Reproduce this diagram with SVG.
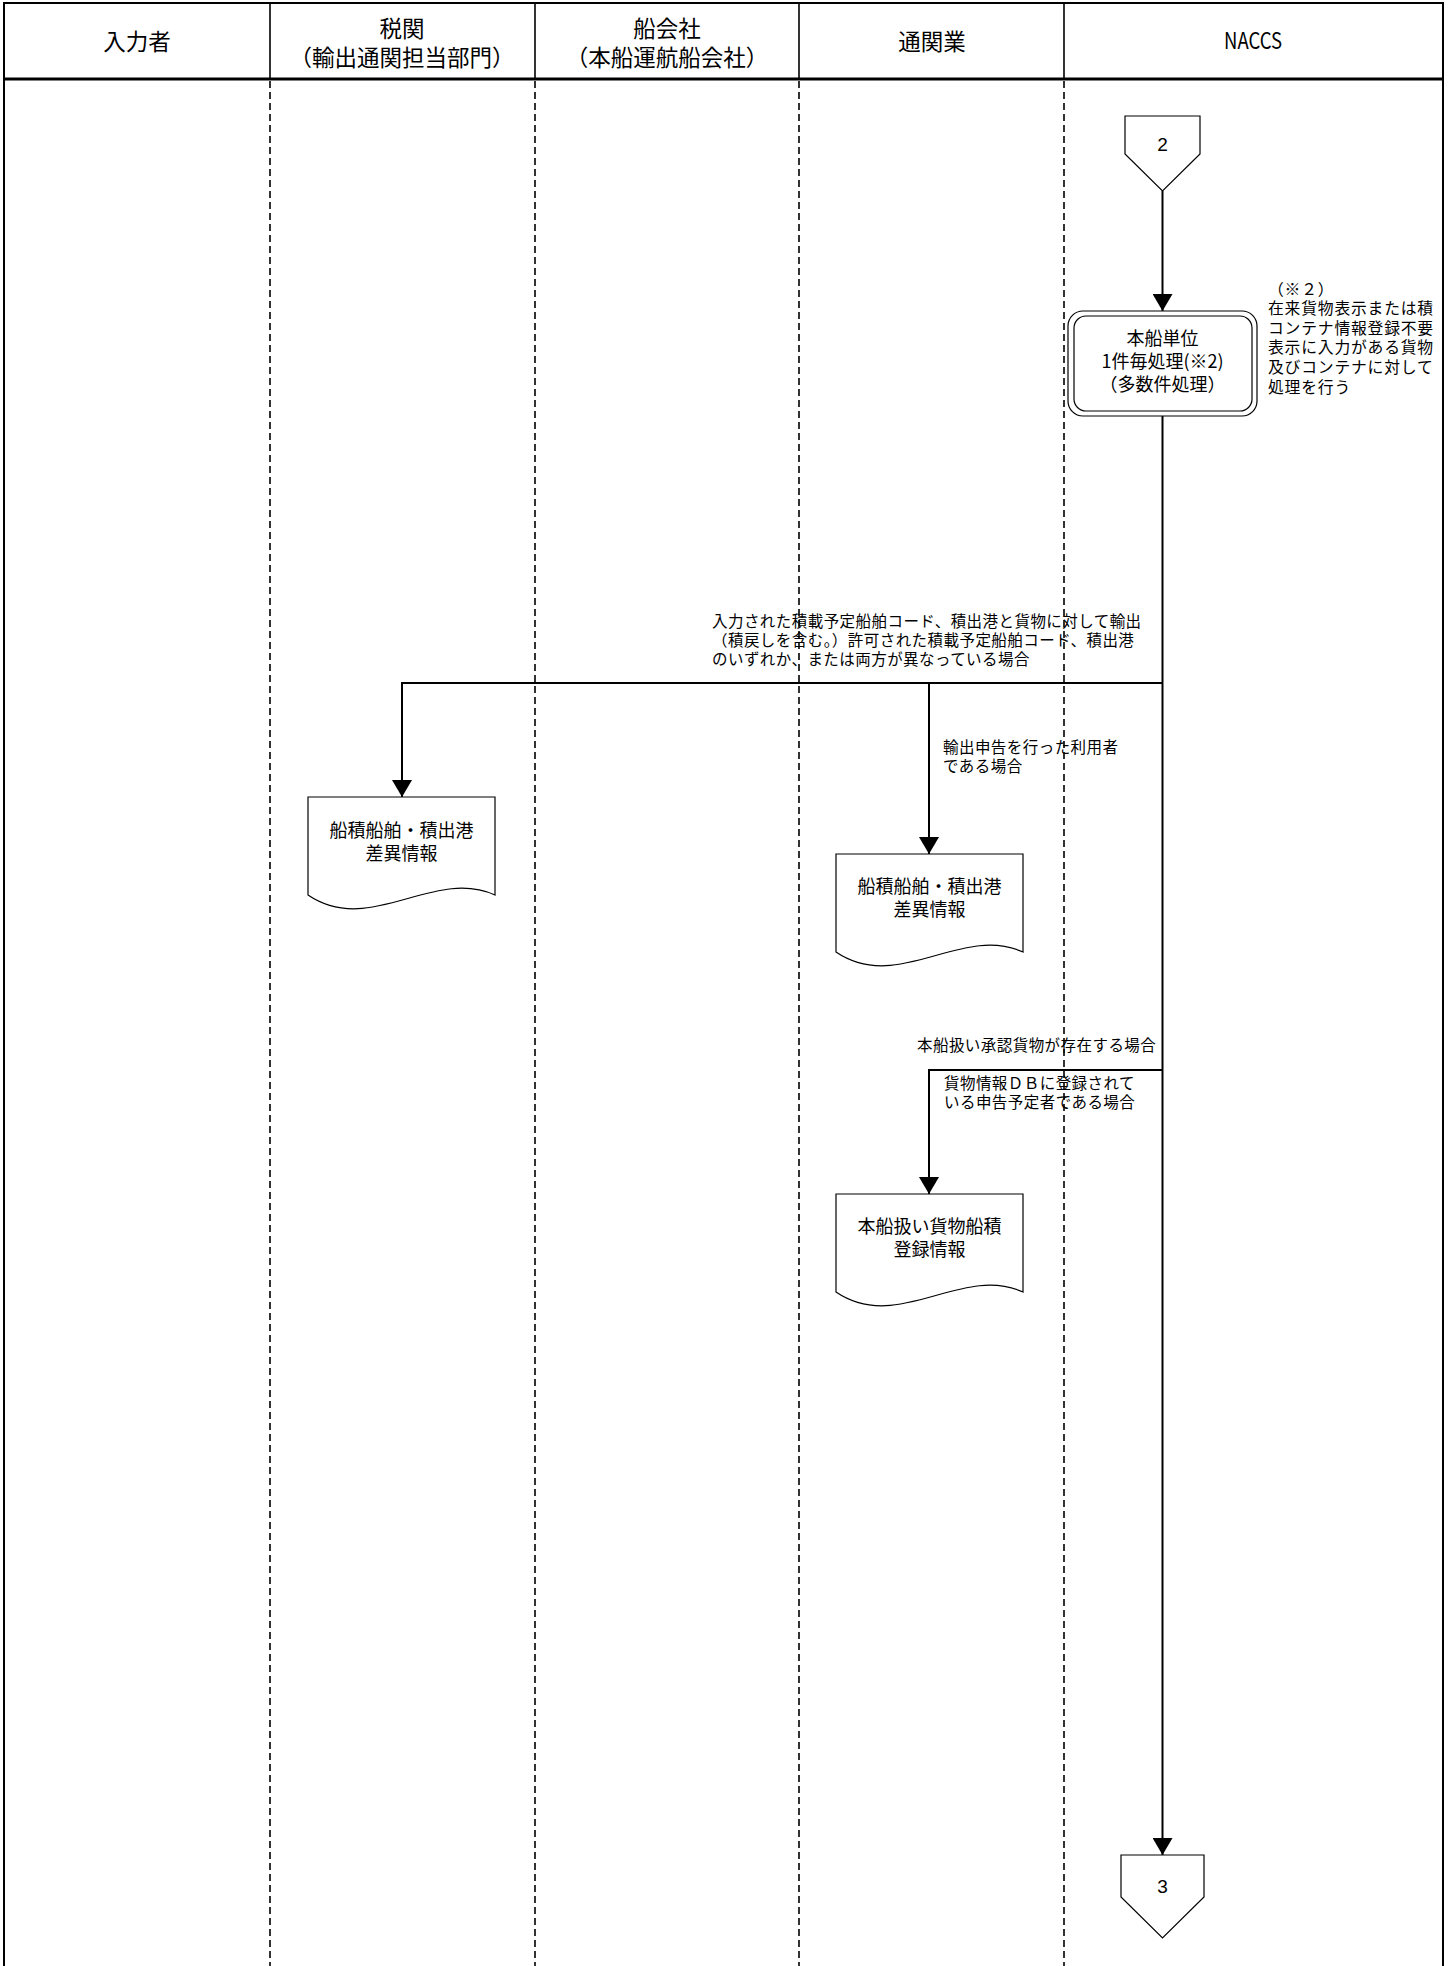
<svg xmlns="http://www.w3.org/2000/svg" width="1451" height="1966" viewBox="0 0 1451 1966">
<style>
text{font-family:"Noto Sans CJK JP","Liberation Sans",sans-serif;fill:#000}
.hd{font-size:22.5px;text-anchor:middle;dominant-baseline:central}
.nd{font-size:18px;text-anchor:middle;dominant-baseline:central}
.lb{font-size:15.5px;letter-spacing:0.45px;dominant-baseline:central}
.nt{font-size:15.8px;letter-spacing:0.8px;dominant-baseline:central}
.num{font-family:"Liberation Sans",sans-serif;font-size:19px;text-anchor:middle;dominant-baseline:central}
.shape{fill:#fff;stroke:#000;stroke-width:1.2}
.lane{stroke:#000;stroke-width:1.6;stroke-dasharray:7,4;fill:none}
.conn{stroke:#000;stroke-width:2;fill:none}
</style>
<defs>
<marker id="arr" markerUnits="userSpaceOnUse" markerWidth="18" markerHeight="20" viewBox="0 0 18 20" refX="17" refY="10" orient="auto">
<path d="M0,0 L17,10 L0,20 Z" fill="#000"/>
</marker>
<path id="docshape" d="M0,0 H187 V98 C125,70 62,140 0,98 Z"/>
</defs>
<rect width="1451" height="1966" fill="#fff"/>
<g id="frame">
<path d="M4,1966 V3 H1443 V1966" fill="none" stroke="#000" stroke-width="2"/>
<line x1="4" y1="79" x2="1443" y2="79" stroke="#000" stroke-width="3"/>
<g stroke="#000" stroke-width="1.6">
<line x1="270" y1="3" x2="270" y2="79"/>
<line x1="535" y1="3" x2="535" y2="79"/>
<line x1="799" y1="3" x2="799" y2="79"/>
<line x1="1064" y1="3" x2="1064" y2="79"/>
</g>
<line class="lane" x1="270" y1="81" x2="270" y2="1966"/>
<line class="lane" x1="535" y1="81" x2="535" y2="1966"/>
<line class="lane" x1="799" y1="81" x2="799" y2="1966"/>
<line class="lane" x1="1064" y1="81" x2="1064" y2="1966"/>
<text class="hd" x="137" y="40">入力者</text>
<text class="hd" x="402" y="26.5">税関</text>
<text class="hd" x="402" y="55.5">（輸出通関担当部門）</text>
<text class="hd" x="667" y="26.5">船会社</text>
<text class="hd" x="667" y="55.5">（本船運航船会社）</text>
<text class="hd" x="932" y="40">通関業</text>
<text class="hd" x="1253" y="39" textLength="58" lengthAdjust="spacingAndGlyphs">NACCS</text>
</g>
<g id="connectors">
<line class="conn" x1="1162.5" y1="191" x2="1162.5" y2="311" marker-end="url(#arr)"/>
<line class="conn" x1="1162.5" y1="416" x2="1162.5" y2="1855" marker-end="url(#arr)"/>
<path class="conn" d="M1162.5,683 H402 V797" marker-end="url(#arr)"/>
<path class="conn" d="M929,683 V854" marker-end="url(#arr)"/>
<path class="conn" d="M1162.5,1070 H929 V1194" marker-end="url(#arr)"/>
<text class="lb" x="712" y="620">入力された積載予定船舶コード、積出港と貨物に対して輸出</text>
<text class="lb" x="712" y="639">（積戻しを含む。）許可された積載予定船舶コード、積出港</text>
<text class="lb" x="712" y="658">のいずれか、または両方が異なっている場合</text>
<text class="lb" x="943" y="746">輸出申告を行った利用者</text>
<text class="lb" x="943" y="765">である場合</text>
<text class="lb" x="917" y="1044">本船扱い承認貨物が存在する場合</text>
<text class="lb" x="944" y="1082">貨物情報ＤＢに登録されて</text>
<text class="lb" x="944" y="1101">いる申告予定者である場合</text>
</g>
<g id="offpage2">
<path class="shape" d="M1125,116 H1200 V154 L1162.5,191 L1125,154 Z"/>
<text class="num" x="1162.5" y="144">2</text>
</g>
<g id="process">
<rect class="shape" x="1068" y="311" width="189" height="105" rx="15"/>
<rect class="shape" x="1074" y="316" width="178" height="95" rx="12"/>
<text class="nd" x="1162.5" y="337">本船単位</text>
<text class="nd" x="1162.5" y="360">1件毎処理(※2)</text>
<text class="nd" x="1162.5" y="383">（多数件処理）</text>
</g>
<g id="note2">
<text class="nt" x="1268" y="288">（※２）</text>
<text class="nt" x="1268" y="307.6">在来貨物表示または積</text>
<text class="nt" x="1268" y="327.2">コンテナ情報登録不要</text>
<text class="nt" x="1268" y="346.8">表示に入力がある貨物</text>
<text class="nt" x="1268" y="366.4">及びコンテナに対して</text>
<text class="nt" x="1268" y="386">処理を行う</text>
</g>
<g id="doc1">
<use href="#docshape" class="shape" x="308" y="797"/>
<text class="nd" x="401.5" y="829">船積船舶・積出港</text>
<text class="nd" x="401.5" y="852">差異情報</text>
</g>
<g id="doc2">
<use href="#docshape" class="shape" x="836" y="854"/>
<text class="nd" x="929.5" y="885">船積船舶・積出港</text>
<text class="nd" x="929.5" y="908">差異情報</text>
</g>
<g id="doc3">
<use href="#docshape" class="shape" x="836" y="1194"/>
<text class="nd" x="929.5" y="1225">本船扱い貨物船積</text>
<text class="nd" x="929.5" y="1248">登録情報</text>
</g>
<g id="offpage3">
<path class="shape" d="M1121,1855 H1204 V1897 L1162.5,1938 L1121,1897 Z"/>
<text class="num" x="1162.5" y="1886">3</text>
</g>
</svg>
